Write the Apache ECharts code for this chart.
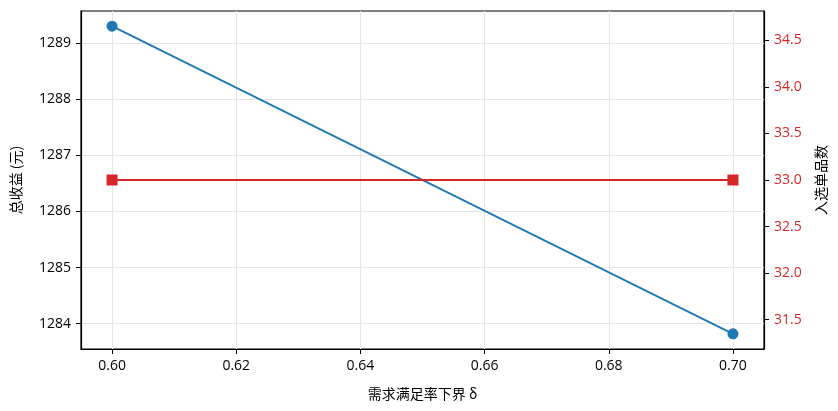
<!DOCTYPE html>
<html>
<head>
<meta charset="utf-8">
<script src="https://cdn.jsdelivr.net/npm/echarts@6/dist/echarts.min.js"></script>
<style>
  html, body { margin: 0; padding: 0; background: #fff; }
  #main { width: 838px; height: 411px; }
</style>
</head>
<body>
<div id="main"></div>
<script>
// 数据
const deltas = [0.60, 0.70]
const revenue = [1289.30, 1283.82]
const itemCount = [33, 33]
const xTicks = [0.60, 0.62, 0.64, 0.66, 0.68, 0.70]
const leftTicks = [1284, 1285, 1286, 1287, 1288, 1289]
const rightTicks = [31.5, 32.0, 32.5, 33.0, 33.5, 34.0, 34.5]

const font = '"Open Sans", "Noto Sans CJK SC", sans-serif'
const cjk = '"Noto Sans CJK SC", sans-serif'
const chart = echarts.init(document.getElementById('main'))

const tickStyle = { show: true, inside: false, length: 5, lineStyle: { color: '#000', width: 1 } }
const gridLine = { show: true, lineStyle: { color: '#e6e6e6', width: 1 } }

const option = {
  animation: false,
  textStyle: { fontFamily: font },
  grid: { left: 81, right: 74, top: 11, bottom: 62, show: true, borderColor: '#000', borderWidth: 1.2, backgroundColor: 'transparent' },
  xAxis: {
    type: 'value',
    min: 0.595,
    max: 0.705,
    name: '需求满足率下界 δ',
    nameLocation: 'middle',
    nameGap: 38,
    nameTextStyle: { color: '#000', fontSize: 14, fontFamily: cjk },
    axisLine: { show: true, onZero: false, lineStyle: { color: '#000', width: 1.2 } },
    axisTick: { ...tickStyle, customValues: xTicks },
    axisLabel: {
      customValues: xTicks,
      color: '#000', fontSize: 14, margin: 10, fontFamily: font,
      formatter: v => v.toFixed(2)
    },
    splitLine: gridLine
  },
  yAxis: [{
    type: 'value',
    position: 'left',
    min: 1283.55,
    max: 1289.57,
    name: '总收益 (元)',
    nameLocation: 'middle',
    nameGap: 58,
    nameRotate: 90,
    nameTextStyle: { color: '#000', fontSize: 14, fontFamily: cjk },
    axisLine: { show: true, lineStyle: { color: '#000', width: 1.2 } },
    axisTick: { ...tickStyle, customValues: leftTicks },
    axisLabel: {
      customValues: leftTicks, color: '#000', fontSize: 14, margin: 10, fontFamily: font,
      formatter: v => String(v)
    },
    splitLine: gridLine
  }, {
    type: 'value',
    position: 'right',
    min: 31.185,
    max: 34.815,
    name: '入选单品数',
    nameLocation: 'middle',
    nameGap: 50,
    nameRotate: 90,
    nameTextStyle: { color: '#000', fontSize: 14, fontFamily: cjk },
    axisLine: { show: true, lineStyle: { color: '#000', width: 1.2 } },
    axisTick: { ...tickStyle, customValues: rightTicks },
    axisLabel: {
      customValues: rightTicks, color: '#d62728', fontSize: 14, margin: 10, fontFamily: font,
      formatter: v => v.toFixed(1)
    },
    splitLine: { show: false }
  }],
  series: [{
    name: '总收益',
    type: 'line',
    yAxisIndex: 0,
    data: deltas.map((d, i) => [d, revenue[i]]),
    symbol: 'circle',
    symbolSize: 11,
    lineStyle: { color: '#1f77b4', width: 1.8 },
    itemStyle: { color: '#1f77b4' }
  }, {
    name: '入选单品数',
    type: 'line',
    yAxisIndex: 1,
    data: deltas.map((d, i) => [d, itemCount[i]]),
    symbol: 'rect',
    symbolSize: 11,
    lineStyle: { color: '#d62728', width: 1.8 },
    itemStyle: { color: '#d62728' }
  }]
}

chart.setOption(option)
</script>
</body>
</html>
